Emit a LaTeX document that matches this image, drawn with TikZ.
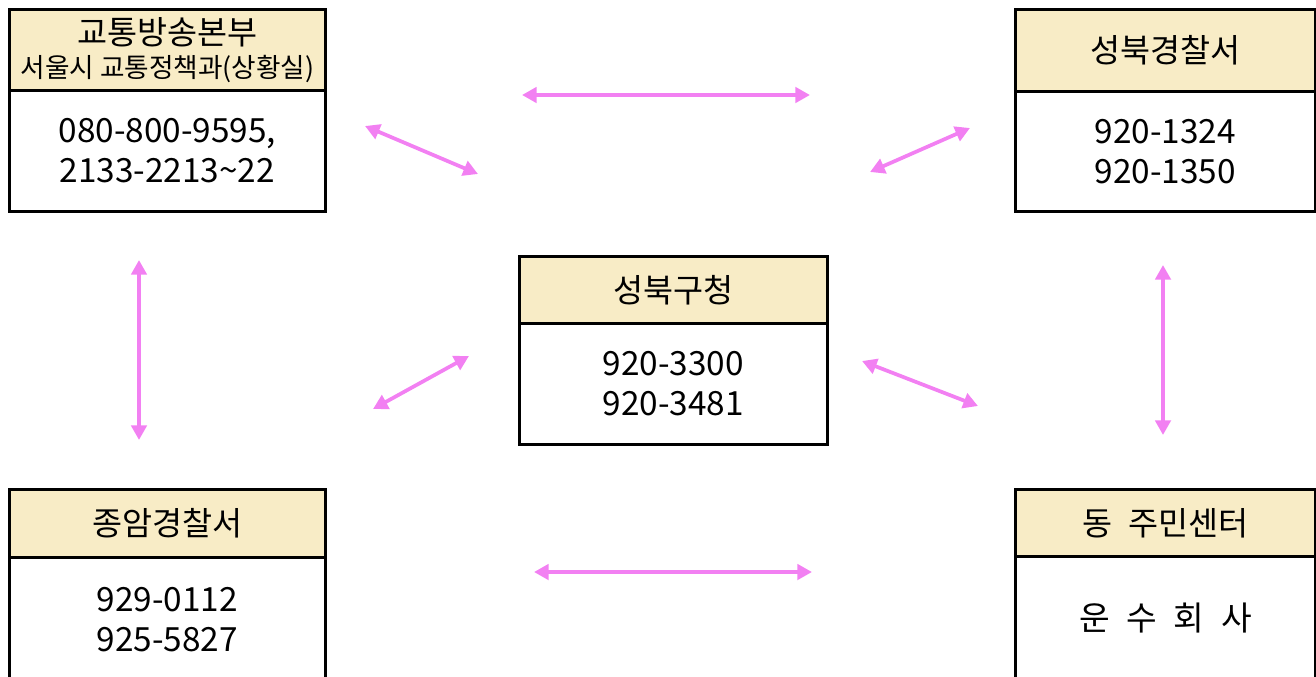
\documentclass[tikz,border=0pt]{standalone}
\usepackage{fontspec}
\setmainfont{Noto Sans CJK KR}
\usetikzlibrary{arrows.meta}
\definecolor{hdr}{RGB}{248,236,198}
\definecolor{arr}{RGB}{242,128,242}
\begin{document}
\begin{tikzpicture}[x=0.75pt,y=-0.75pt,
  hbox/.style={draw=black, line width=2.1pt, fill=hdr, anchor=north west, inner sep=0pt, align=center, font=\fontsize{24.5}{30}\selectfont},
  bbox/.style={draw=black, line width=2.1pt, fill=white, anchor=north west, inner sep=0pt, align=center, font=\fontsize{25}{30}\selectfont},
  link/.style={draw=arr, line width=2.8pt, {Triangle[length=11pt,width=11.5pt]}-{Triangle[length=11pt,width=11.5pt]}}]
\useasboundingbox (0,0) rectangle (1316,676);
\clip (0,0) rectangle (1316,676);
% top-left
\node[bbox, minimum width=237pt, minimum height=90.75pt] (tlb) at (8,89) {080-800-9595,\\2133-2213\textasciitilde22};
\node[hbox, minimum width=237pt, minimum height=60.75pt] (tlh) at (8,8) {교통방송본부\\[-5pt]{\fontsize{20}{24}\selectfont 서울시 교통정책과(상황실)}};
% top-right
\node[bbox, minimum width=225pt, minimum height=90pt] (trb) at (1014,90) {920-1324\\920-1350};
\node[hbox, minimum width=225pt, minimum height=61.5pt] (trh) at (1014,8) {성북경찰서};
% center
\node[bbox, minimum width=231pt, minimum height=90.75pt] (cb) at (518,322) {920-3300\\920-3481};
\node[hbox, minimum width=231pt, minimum height=50.25pt] (ch) at (518,255) {성북구청};
% bottom-left
\node[bbox, minimum width=237pt, minimum height=93pt] (blb) at (8,556) {929-0112\\925-5827};
\node[hbox, minimum width=237pt, minimum height=51pt] (blh) at (8,488) {종암경찰서};
% bottom-right
\node[bbox, minimum width=225pt, minimum height=93pt] (brb) at (1014,555) {운\hspace{0.5em}수\hspace{0.5em}회\hspace{0.5em}사};
\node[hbox, minimum width=225pt, minimum height=50.25pt] (brh) at (1014,488) {동\hspace{0.5em}주민센터};
% arrow end points
\coordinate (t1) at (522,95);   \coordinate (t2) at (810,95);
\coordinate (b1) at (534,572);  \coordinate (b2) at (812,572);
\coordinate (l1) at (139,260);  \coordinate (l2) at (139,440);
\coordinate (r1) at (1163,265); \coordinate (r2) at (1163,435);
\coordinate (d1) at (365,126);  \coordinate (d2) at (478,174);
\coordinate (e1) at (970,128);  \coordinate (e2) at (870,172);
\coordinate (f1) at (469,356);  \coordinate (f2) at (373,409);
\coordinate (g1) at (862,361);  \coordinate (g2) at (978,406);
\draw[link] (t1) -- (t2);
\draw[link] (b1) -- (b2);
\draw[link] (l1) -- (l2);
\draw[link] (r1) -- (r2);
\draw[link] (d1) -- (d2);
\draw[link] (e1) -- (e2);
\draw[link] (f1) -- (f2);
\draw[link] (g1) -- (g2);
\end{tikzpicture}
\end{document}
